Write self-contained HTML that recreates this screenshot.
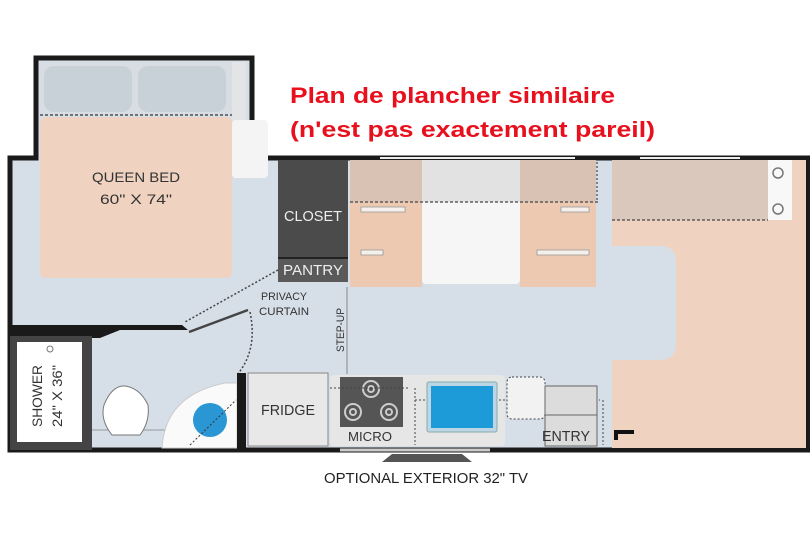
<!DOCTYPE html>
<html><head><meta charset="utf-8"><style>
body{margin:0;background:#fff}
svg{display:block}
text{font-family:"Liberation Sans",sans-serif}
</style></head><body>
<svg width="810" height="540" viewBox="0 0 810 540" xmlns="http://www.w3.org/2000/svg">
<rect width="810" height="540" fill="#fff"/>
<rect x="10" y="158" width="798" height="292" fill="#d6dee7"/>
<rect x="36" y="58" width="216" height="100" fill="#d6dee7"/>
<path d="M36 158 V58 H252 V158 H808 V450 H10 V158 Z" fill="none" stroke="#1a1a1a" stroke-width="5"/>
<line x1="380" y1="158" x2="575" y2="158" stroke="#eee" stroke-width="2"/>
<line x1="640" y1="158" x2="740" y2="158" stroke="#eee" stroke-width="2"/>
<!-- bed -->
<rect x="40" y="62" width="192" height="54" fill="#d7dde3"/>
<rect x="44" y="66" width="88" height="46" rx="10" fill="#c9d1d8"/>
<rect x="138" y="66" width="88" height="46" rx="10" fill="#c9d1d8"/>
<rect x="40" y="117" width="192" height="161" rx="6" fill="#efd3c0"/>
<line x1="40" y1="115" x2="245" y2="115" stroke="#333" stroke-dasharray="3,2" stroke-width="1.2"/>
<rect x="232" y="62" width="14" height="60" fill="#e2e4e6"/>
<rect x="232" y="120" width="36" height="58" rx="4" fill="#f4f4f4"/>
<text x="136" y="182" font-size="14" text-anchor="middle" fill="#333" textLength="88" lengthAdjust="spacingAndGlyphs">QUEEN BED</text>
<text x="136" y="204" font-size="14" text-anchor="middle" fill="#333" textLength="72" lengthAdjust="spacingAndGlyphs">60" X 74"</text>
<!-- closet / pantry -->
<rect x="278" y="160" width="70" height="98" fill="#4b4b4b"/>
<rect x="278" y="258" width="70" height="24" fill="#5a5a5a"/>
<line x1="278" y1="258" x2="348" y2="258" stroke="#222" stroke-width="2"/>
<text x="313" y="221" font-size="15" text-anchor="middle" fill="#eee" textLength="58" lengthAdjust="spacingAndGlyphs">CLOSET</text>
<text x="313" y="275" font-size="15" text-anchor="middle" fill="#eee" textLength="60" lengthAdjust="spacingAndGlyphs">PANTRY</text>
<!-- dinette -->
<rect x="350" y="160" width="72" height="127" fill="#ecc9b0"/>
<rect x="520" y="160" width="76" height="127" fill="#ecc9b0"/>
<rect x="350" y="160" width="72" height="42" fill="#d9c2b3"/>
<rect x="520" y="160" width="76" height="42" fill="#d9c2b3"/>
<rect x="422" y="160" width="98" height="124" rx="4" fill="#f6f6f6"/>
<rect x="422" y="160" width="98" height="42" fill="#e2e2e2"/>
<line x1="350" y1="202" x2="598" y2="202" stroke="#444" stroke-dasharray="3,2" stroke-width="1.2"/>
<line x1="597" y1="162" x2="597" y2="202" stroke="#444" stroke-dasharray="2,2" stroke-width="1.2"/>
<rect x="361" y="207" width="44" height="5" fill="#f5f0ec" stroke="#999" stroke-width=".8"/>
<rect x="361" y="250" width="22" height="5" fill="#f5f0ec" stroke="#999" stroke-width=".8"/>
<rect x="561" y="207" width="28" height="5" fill="#f5f0ec" stroke="#999" stroke-width=".8"/>
<rect x="537" y="250" width="52" height="5" fill="#f5f0ec" stroke="#999" stroke-width=".8"/>
<!-- cab -->
<path d="M612 160 H806 V448 H612 V360 H660 Q676 360 676 344 V262 Q676 246 660 246 H612 Z" fill="#efd3c0"/>
<rect x="612" y="160" width="156" height="60" fill="#d9c8bb"/>
<rect x="768" y="160" width="24" height="60" fill="#f8f8f8"/>
<line x1="612" y1="220" x2="768" y2="220" stroke="#444" stroke-dasharray="3,2" stroke-width="1.2"/>
<circle cx="778" cy="173" r="5" fill="none" stroke="#777" stroke-width="1.5"/>
<circle cx="778" cy="209" r="5" fill="none" stroke="#777" stroke-width="1.5"/>
<path d="M616 440 V432 H634" stroke="#111" stroke-width="4" fill="none"/>
<!-- step-up -->
<line x1="347" y1="287" x2="347" y2="374" stroke="#888" stroke-width="1"/>
<text transform="translate(344,330) rotate(-90)" font-size="11" text-anchor="middle" fill="#333" textLength="44" lengthAdjust="spacingAndGlyphs">STEP-UP</text>
<!-- privacy -->
<text x="284" y="300" font-size="11" text-anchor="middle" fill="#333" textLength="46" lengthAdjust="spacingAndGlyphs">PRIVACY</text>
<text x="284" y="315" font-size="11" text-anchor="middle" fill="#333" textLength="50" lengthAdjust="spacingAndGlyphs">CURTAIN</text>
<path d="M278 270 L185 322" stroke="#444" stroke-dasharray="2,2" stroke-width="1.5" fill="none"/>
<line x1="189" y1="332" x2="248" y2="310" stroke="#444" stroke-width="2.5"/>
<path d="M250 312 Q258 350 237 375" stroke="#444" stroke-dasharray="2,2" stroke-width="1.5" fill="none"/>
<!-- bath wall -->
<path d="M10 325 H182 L188 330 H120 L100 338 H10 Z" fill="#1a1a1a"/>
<rect x="10" y="336" width="82" height="114" fill="#444"/>
<rect x="17" y="342" width="65" height="100" fill="#fff"/>
<circle cx="50" cy="349" r="3" fill="none" stroke="#777"/>
<text transform="translate(42,396) rotate(-90)" font-size="14" text-anchor="middle" fill="#333" textLength="62" lengthAdjust="spacingAndGlyphs">SHOWER</text>
<text transform="translate(62,396) rotate(-90)" font-size="14" text-anchor="middle" fill="#333" textLength="62" lengthAdjust="spacingAndGlyphs">24" X 36"</text>
<line x1="92" y1="430" x2="165" y2="430" stroke="#999"/>
<path d="M112 435 Q100 420 104 405 Q112 385 125 386 Q140 388 148 405 Q150 422 140 435 Z" fill="#fff" stroke="#777"/>
<path d="M162 448 Q165 395 225 383 H237 V448 Z" fill="#fafafa" stroke="#ccc"/>
<circle cx="210" cy="420" r="17" fill="#2a97d4"/>
<line x1="190" y1="445" x2="236" y2="400" stroke="#333" stroke-dasharray="2,2"/>
<rect x="237" y="373" width="9" height="77" fill="#1a1a1a"/>
<!-- fridge -->
<rect x="248" y="373" width="80" height="73" fill="#e8e8e8" stroke="#888"/>
<text x="288" y="415" font-size="15" text-anchor="middle" fill="#333" textLength="54" lengthAdjust="spacingAndGlyphs">FRIDGE</text>
<!-- counter -->
<rect x="330" y="375" width="175" height="71" rx="4" fill="#e6e6e6"/>
<rect x="340" y="377" width="63" height="50" fill="#555"/>
<g fill="none" stroke="#ccc" stroke-width="2">
<circle cx="371" cy="389" r="8"/><circle cx="371" cy="389" r="3"/>
<circle cx="353" cy="412" r="8"/><circle cx="353" cy="412" r="3"/>
<circle cx="389" cy="412" r="8"/><circle cx="389" cy="412" r="3"/>
</g>
<text x="370" y="441" font-size="13" text-anchor="middle" fill="#333" textLength="44" lengthAdjust="spacingAndGlyphs">MICRO</text>
<line x1="330" y1="388" x2="410" y2="388" stroke="#444" stroke-dasharray="2,2"/>
<line x1="415" y1="400" x2="600" y2="400" stroke="#444" stroke-dasharray="2,2"/>
<line x1="415" y1="388" x2="415" y2="445" stroke="#444" stroke-dasharray="2,2"/>
<rect x="427" y="382" width="70" height="50" rx="2" fill="#bcd6e6" stroke="#8aa"/>
<rect x="431" y="386" width="62" height="42" fill="#1c9bd8"/>
<!-- entry -->
<rect x="507" y="377" width="38" height="42" rx="5" fill="#f2f2f2" stroke="#444" stroke-dasharray="2,2"/>
<rect x="545" y="386" width="52" height="60" fill="#dcdcdc" stroke="#666"/>
<line x1="545" y1="415" x2="597" y2="415" stroke="#666"/>
<line x1="603" y1="400" x2="603" y2="445" stroke="#444" stroke-dasharray="2,2"/>
<text x="566" y="441" font-size="15" text-anchor="middle" fill="#333" textLength="48" lengthAdjust="spacingAndGlyphs">ENTRY</text>
<!-- tv -->
<path d="M382 462 L392 454 H462 L472 462 Z" fill="#555"/>
<line x1="340" y1="450" x2="490" y2="450" stroke="#ccc" stroke-width="3"/>
<text x="426" y="483" font-size="15" text-anchor="middle" fill="#222" textLength="204" lengthAdjust="spacingAndGlyphs">OPTIONAL EXTERIOR 32" TV</text>
<!-- red note -->
<text x="290" y="103" font-size="22" font-weight="bold" fill="#e8101c" textLength="325" lengthAdjust="spacingAndGlyphs">Plan de plancher similaire</text>
<text x="290" y="137" font-size="22" font-weight="bold" fill="#e8101c" textLength="365" lengthAdjust="spacingAndGlyphs">(n'est pas exactement pareil)</text>
</svg>
</body></html>
